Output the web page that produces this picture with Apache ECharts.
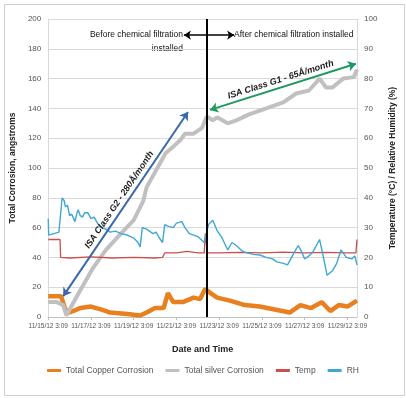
<!DOCTYPE html>
<html lang="en">
<head>
    <meta charset="UTF-8">
    <title>Corrosion</title>
    <script type="text/javascript" src="https://cdn.jsdelivr.net/npm/echarts@6/dist/echarts.min.js"></script>
    <style>
        html, body { margin: 0; padding: 0; background: #fff; }
    </style>
</head>
<body>
    <div id="chart" style="width: 406px;height:398px;"></div>
    <script type="text/javascript">
        // x in days since 11/15/12 3:09
        var xLabels = ['11/15/12 3:09', '11/17/12 3:09', '11/19/12 3:09', '11/21/12 3:09',
            '11/23/12 3:09', '11/25/12 3:09', '11/27/12 3:09', '11/29/12 3:09'];

        var copperDays = [0, 0.6, 0.8, 1.0, 1.5, 2.0, 2.5, 2.9, 3.7, 4.3, 4.6, 5.0, 5.4, 5.6, 5.85, 6.3, 6.8, 7.1, 7.35, 7.5, 7.9, 8.5, 9.2, 9.9, 10.6, 11.3, 11.8, 12.3, 12.8, 13.2, 13.6, 14.0, 14.45];
        var copperVals = [14, 14, 5, 3, 6, 7, 5, 3, 2, 1, 3, 6, 6, 16, 10, 10, 13, 12, 19, 17, 13, 11, 8, 7, 5, 3, 8, 6, 10, 4, 8, 7, 11];

        var silverDays = [0, 0.4, 0.7, 0.85, 1.0, 1.5, 2.1, 2.7, 3.4, 4.0, 4.45, 4.6, 5.5, 5.9, 6.2, 6.4, 6.8, 7.2, 7.4, 7.5, 7.7, 7.9, 8.4, 8.8, 9.4, 10.2, 11.0, 11.6, 12.2, 12.7, 13.0, 13.3, 13.8, 14.3, 14.45];
        var silverVals = [10, 10, 8, 1, 5, 18, 33, 45, 56, 65, 78, 87, 110, 115, 119, 123, 123, 127, 134, 134, 132, 134, 130, 132, 136, 140, 144, 150, 152, 160, 154, 154, 160, 161, 166];

        var tempDays = [0, 0.55, 0.58, 1.0, 2.0, 3.0, 4.0, 5.0, 5.35, 5.45, 6.0, 6.5, 7.0, 7.3, 7.35, 7.45, 8.0, 9.0, 10.0, 11.0, 12.0, 13.0, 14.0, 14.4, 14.45];
        var tempVals = [26, 26, 20, 19.8, 20.2, 19.8, 20, 19.8, 20, 21.5, 21.5, 22, 21.5, 21.5, 28, 21.5, 21.5, 21.7, 21.5, 21.8, 21.5, 21.7, 21.5, 21.5, 26];

        var rhDays = [0, 0.02, 0.5, 0.55, 0.65, 0.75, 0.8, 0.9, 1.0, 1.1, 1.25, 1.35, 1.4, 1.5, 1.6, 1.7, 1.85, 2.0, 2.15, 2.3, 2.45, 2.7, 2.9, 3.15, 3.4, 3.7, 4.0, 4.2, 4.3,
            4.4, 4.6, 4.9, 5.05, 5.2, 5.35, 5.45, 5.6, 5.85, 6.0, 6.25, 6.4, 6.6, 6.8, 7.0, 7.15, 7.3, 7.5, 7.7, 7.9, 8.1, 8.4, 8.6, 8.8, 8.95,
            9.1, 9.3, 9.6, 9.9, 10.2, 10.5, 10.7, 11.0, 11.2, 11.5, 11.7, 11.85, 12.0, 12.2, 12.4, 12.7, 12.85, 13.05, 13.3, 13.5, 13.7, 13.95, 14.2, 14.35, 14.45];
        var rhVals = [33, 27.5, 28.5, 29, 40, 39, 37, 37.5, 34, 34.5, 32, 35, 36, 34, 33.5, 35, 35, 33, 33.5, 31.5, 30, 29.5, 28.5, 28.8, 28, 27.5, 26.5, 25, 23.5,
            30, 29.5, 28, 28.5, 26.5, 25, 31, 30.5, 30, 31.5, 32, 30, 28, 27.5, 27, 26, 25, 31, 32.5, 29, 27, 22.5, 25, 24, 23,
            22, 21.5, 21, 20.8, 20, 19.5, 18.5, 18, 17.5, 21.5, 24, 22, 19.5, 20.5, 22, 26, 21, 14, 15.5, 18, 22.5, 20, 19.5, 20.5, 17.5];

        // annotations (data coordinates)
        var filterDay = 7.43;
        var g2Arrow = [[0.7, 14], [6.54, 137.6]];
        var g1Arrow = [[7.57, 139], [14.4, 170]];

        function pairs(xs, ys) {
            return xs.map(function (x, i) { return [x, ys[i]]; });
        }

        var font = "'Liberation Sans Narrow', 'Liberation Sans', sans-serif";
        var myChart = echarts.init(document.getElementById('chart'));
        var option = {
            animation: false,
            textStyle: {fontFamily: font},
            grid: {left: 48, right: 49, top: 19, bottom: 81},
            legend: {
                bottom: 18,
                left: 'center',
                itemWidth: 14,
                itemHeight: 3,
                itemGap: 12,
                icon: 'rect',
                textStyle: {fontSize: 8.5, color: '#555', fontFamily: font},
                data: ['Total Copper Corrosion', 'Total silver Corrosion', 'Temp', 'RH']
            },
            xAxis: {
                type: 'value',
                min: 0,
                max: 14.45,
                interval: 2,
                name: 'Date and Time',
                nameLocation: 'middle',
                nameGap: 28,
                nameTextStyle: {fontSize: 9, fontWeight: 'bold', color: '#222'},
                axisLine: {show: true, lineStyle: {color: '#bfbfbf'}},
                axisTick: {show: true, length: 3, lineStyle: {color: '#bfbfbf'}},
                axisLabel: {
                    fontSize: 6.5, color: '#555', margin: 6, showMaxLabel: false,
                    formatter: function (v) { return v % 2 === 0 ? xLabels[v / 2] : ''; }
                },
                splitLine: {show: false}
            },
            yAxis: [{
                type: 'value',
                min: 0, max: 200, interval: 20,
                name: 'Total Corrosion, angstroms',
                nameLocation: 'middle',
                nameGap: 18,
                nameTextStyle: {fontSize: 8.5, fontWeight: 'bold', color: '#222'},
                axisLine: {show: true, lineStyle: {color: '#d9d9d9'}},
                axisTick: {show: false},
                axisLabel: {fontSize: 8, color: '#555', margin: 7},
                splitLine: {lineStyle: {color: '#d9d9d9'}}
            }, {
                type: 'value',
                min: 0, max: 100, interval: 10,
                name: 'Temperature (°C) / Relative Humidity (%)',
                nameLocation: 'middle',
                nameGap: 24,
                nameTextStyle: {fontSize: 8.5, fontWeight: 'bold', color: '#222'},
                axisLine: {show: true, lineStyle: {color: '#d9d9d9'}},
                axisTick: {show: false},
                axisLabel: {fontSize: 8, color: '#555', margin: 7},
                splitLine: {show: false}
            }],
            series: [
                {
                    name: 'Total Copper Corrosion', type: 'line', yAxisIndex: 0,
                    data: pairs(copperDays, copperVals), showSymbol: false,
                    itemStyle: {color: '#e8801f'},
                    lineStyle: {color: '#e8801f', width: 4.5}
                },
                {
                    name: 'Total silver Corrosion', type: 'line', yAxisIndex: 0,
                    data: pairs(silverDays, silverVals), showSymbol: false,
                    itemStyle: {color: '#c0c0c0'},
                    lineStyle: {color: '#c0c0c0', width: 4},
                    markLine: {
                        silent: true,
                        symbol: ['arrow', 'arrow'],
                        symbolSize: 8,
                        data: [
                            [{coord: g2Arrow[0], lineStyle: {color: '#3b68ad', width: 2, type: 'solid'},
                                label: {show: true, position: 'insideMiddleTop', distance: 3, formatter: 'ISA Class G2 - 280Å/month',
                                    fontSize: 9, fontWeight: 'bold', fontStyle: 'italic', color: '#1a1a1a', fontFamily: font}},
                             {coord: g2Arrow[1]}],
                            [{coord: g1Arrow[0], lineStyle: {color: '#1f9a5f', width: 2, type: 'solid'},
                                label: {show: true, position: 'insideMiddleTop', distance: 3, formatter: 'ISA Class G1 - 65Å/month',
                                    fontSize: 9, fontWeight: 'bold', fontStyle: 'italic', color: '#1a1a1a', fontFamily: font}},
                             {coord: g1Arrow[1]}]
                        ]
                    }
                },
                {
                    name: 'Temp', type: 'line', yAxisIndex: 1,
                    data: pairs(tempDays, tempVals), showSymbol: false,
                    itemStyle: {color: '#c9504c'},
                    lineStyle: {color: '#c9504c', width: 1.3}
                },
                {
                    name: 'RH', type: 'line', yAxisIndex: 1,
                    data: pairs(rhDays, rhVals), showSymbol: false,
                    itemStyle: {color: '#3ea7d6'},
                    lineStyle: {color: '#3ea7d6', width: 1.4},
                    markLine: {
                        silent: true,
                        symbol: ['none', 'arrow'],
                        symbolSize: 7,
                        label: {show: false},
                        lineStyle: {color: '#000', width: 1.5, type: 'solid'},
                        data: [
                            [{coord: [filterDay, 94.6]}, {coord: [6.35, 94.6]}],
                            [{coord: [filterDay, 94.6]}, {coord: [8.7, 94.6]}],
                            [{coord: [filterDay, 100], symbol: 'none'}, {coord: [filterDay, 0], symbol: 'none', lineStyle: {width: 2}}]
                        ]
                    }
                }
            ],
            graphic: [
                {type: 'rect', left: 2, top: 2, shape: {width: 400, height: 391},
                    style: {fill: 'none', stroke: '#cfcfcf', lineWidth: 1}, silent: true},
                {type: 'text', right: 406 - 183, top: 30,
                    style: {text: 'Before chemical filtration', fontSize: 8.5, fontFamily: font, fill: '#111', textAlign: 'right'}},
                {type: 'text', right: 406 - 183, top: 44,
                    style: {text: 'installed', fontSize: 8.5, fontFamily: font, fill: '#111', textAlign: 'right'}},
                {type: 'text', left: 234, top: 30,
                    style: {text: 'After chemical filtration installed', fontSize: 8.5, fontFamily: font, fill: '#111'}}
            ]
        };
        myChart.setOption(option);
    </script>
</body>
</html>
